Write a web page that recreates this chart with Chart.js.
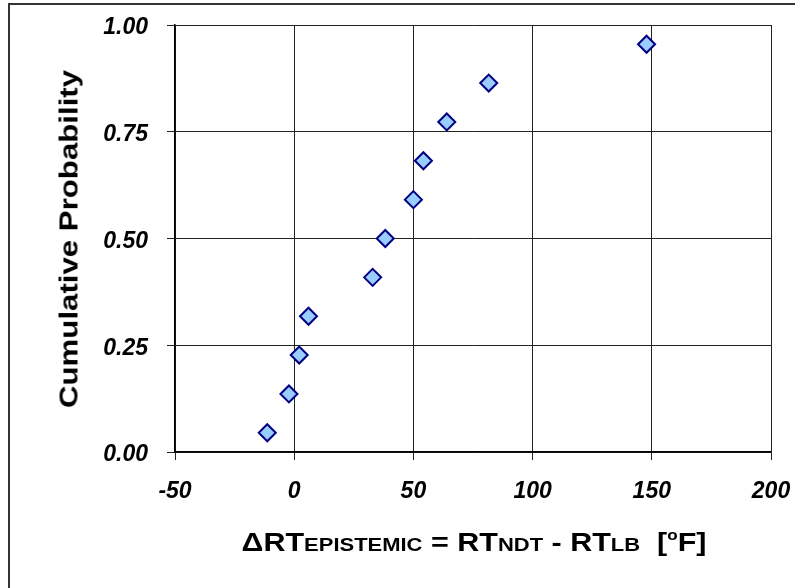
<!DOCTYPE html>
<html>
<head>
<meta charset="utf-8">
<script src="https://cdn.jsdelivr.net/npm/chart.js@4.4.0/dist/chart.umd.min.js"></script>
<style>
    html, body { margin: 0; padding: 0; background: #fff; }
    #wrap { position: relative; width: 795px; height: 588px; overflow: hidden; }
    #frame {
        position: absolute; left: 8px; top: 3px; width: 800px; height: 600px;
        border-left: 2px solid #333; border-top: 2px solid #333;
    }
    #chart { position: absolute; left: 0; top: 0; }
    .axisTitle {
        position: absolute; font-family: "Liberation Sans", Arial, sans-serif;
        font-weight: bold; color: #000; white-space: nowrap;
    }
    #yTitle {
        left: 69px; top: 239px; font-size: 26px;
        transform: translate(-50%, -50%) rotate(-90deg) scaleX(1.2);
    }
    #xTitle {
        left: 474px; top: 542px; font-size: 25px;
        transform: translate(-50%, -50%) scaleX(1.22);
    }
    #xTitle .sub { font-size: 18px; }
    #xTitle .deg { font-size: 14px; position: relative; top: -11px; }
</style>
</head>
<body>
<div id="wrap">
    <div id="frame"></div>
    <canvas id="chart" width="795" height="588"></canvas>
    <div class="axisTitle" id="yTitle">Cumulative Probability</div>
    <div class="axisTitle" id="xTitle">ΔRT<span class="sub">EPISTEMIC</span> = RT<span class="sub">NDT</span> - RT<span class="sub">LB</span>&nbsp;&nbsp;[<span class="deg">o</span>F]</div>
</div>
<script>
// Delta RT epistemic (deg F) and the cumulative probability for each ranked value
const deltaRT = [-11.3, -2.2, 2.1, 6.0, 32.9, 38.2, 50.0, 54.2, 64.0, 81.6, 147.8];
const cumProb = [0.045, 0.136, 0.227, 0.318, 0.409, 0.500, 0.591, 0.682, 0.773, 0.864, 0.955];

const xTicks = [-50, 0, 50, 100, 150, 200];
const yTicks = [0, 0.25, 0.5, 0.75, 1];

const tickFont = { family: '"Liberation Sans", Arial, sans-serif', size: 23, weight: 'bold', style: 'italic' };

const points = deltaRT.map((x, i) => ({ x: x, y: cumProb[i] }));

// fixed box sizes so the plot area lands where we want it
const fixBox = (size) => (scale) => {
    if (scale.isHorizontal()) scale.height = size; else scale.width = size;
    scale.paddingTop = 0;
    scale.paddingBottom = 0;
    scale.paddingLeft = 0;
    scale.paddingRight = 0;
};

const ctx = document.getElementById('chart').getContext('2d');

new Chart(ctx, {
    type: 'scatter',
    data: {
        datasets: [{
            data: points,
            pointStyle: 'rectRot',
            pointRadius: 8.5,
            pointHoverRadius: 8.5,
            backgroundColor: '#99CCFF',
            borderColor: '#000080',
            borderWidth: 2
        }]
    },
    options: {
        responsive: false,
        animation: false,
        layout: { padding: { left: 65, right: 24, top: 25, bottom: 76 } },
        plugins: {
            legend: { display: false },
            tooltip: { enabled: false }
        },
        scales: {
            x: {
                type: 'linear',
                min: xTicks[0],
                max: xTicks[xTicks.length - 1],
                afterBuildTicks: (scale) => { scale.ticks = xTicks.map(v => ({ value: v })); },
                afterFit: fixBox(60),
                grid: { color: '#222', lineWidth: 1, tickLength: 8 },
                border: { color: '#000', width: 1.5 },
                ticks: { font: tickFont, color: '#000', padding: 18, maxRotation: 0 }
            },
            y: {
                type: 'linear',
                min: 0,
                max: 1,
                afterBuildTicks: (scale) => { scale.ticks = yTicks.map(v => ({ value: v })); },
                afterFit: fixBox(110),
                grid: { color: '#222', lineWidth: 1, tickLength: 8 },
                border: { color: '#000', width: 1.5 },
                ticks: {
                    font: tickFont,
                    color: '#000',
                    padding: 19,
                    labelOffset: 3,
                    callback: (v) => Number(v).toFixed(2)
                }
            }
        }
    }
});
</script>
</body>
</html>
